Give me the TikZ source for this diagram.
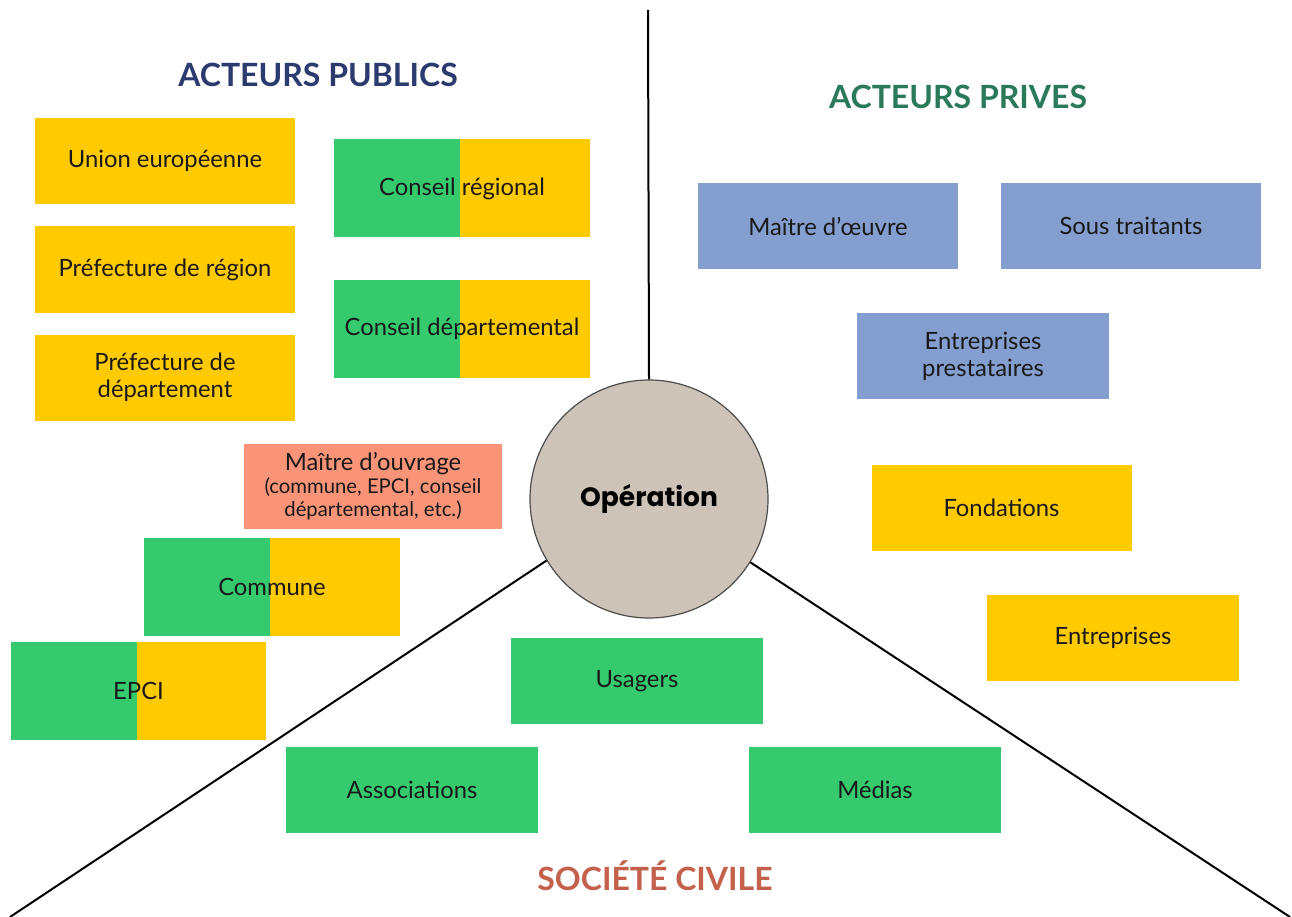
\documentclass[tikz,border=0pt]{standalone}
\usepackage{fontspec}
\setmainfont{Lato}
\newfontfamily\popfont{Poppins}
\definecolor{gyellow}{HTML}{FFCA00}
\definecolor{ggreen}{HTML}{36CA6E}
\definecolor{gblue}{HTML}{849FCF}
\definecolor{gsalmon}{HTML}{FA9478}
\definecolor{gcircle}{HTML}{CEC3B8}
\definecolor{tnavy}{HTML}{2B3A6F}
\definecolor{tgreen}{HTML}{2A7A5A}
\definecolor{tred}{HTML}{C4614C}
\begin{document}
\begin{tikzpicture}[x=1pt,y=-1pt,
  box/.style={inner sep=0pt, minimum width=260pt, minimum height=86pt, align=center,
    font=\fontsize{23.8}{27}\selectfont, text=black!90},
  ybox/.style={box, fill=gyellow},
  bbox/.style={box, fill=gblue},
  gbox/.style={box, fill=ggreen},
  splitbox/.style={box, minimum height=98pt, fill=gyellow,
    path picture={\fill[ggreen] (path picture bounding box.north west) rectangle ([xshift=126pt]path picture bounding box.south west);}},
  title/.style={font=\fontsize{32}{36}\selectfont\bfseries},
  sep/.style={line width=2pt, black}
]
\useasboundingbox[fill=white] (0,0) rectangle (1292,917);

% central operation
\node[circle, draw=black!70, line width=1.2pt, fill=gcircle, minimum size=238pt, inner sep=0pt,
  font=\popfont\bfseries\fontsize{26.5}{30}\selectfont] (op) at (649,499) {Opération};

% separators
\coordinate (vtop) at (648,10);
\coordinate (bl) at (10,917);
\coordinate (br) at (1290,917);
\draw[sep] (vtop) -- (op.north);
\draw[sep] (op.211) -- (bl);
\draw[sep] (op.328) -- (br);

% titles
\node[title, text=tnavy] (tpub) at (318,75) {ACTEURS PUBLICS};
\node[title, text=tgreen] (tpriv) at (958,97) {ACTEURS PRIVES};
\node[title, text=tred] (tciv) at (655,876) {SOCIÉTÉ CIVILE};

% public actors
\node[ybox] (ue) at (165,161) {Union européenne};
\node[ybox] (prefreg) at (165,269.5) {Préfecture de région};
\node[ybox] (prefdep) at (165,377.5) {Préfecture de\\département};
\node[splitbox, minimum width=256pt] (creg) at (462,188.5) {Conseil régional};
\node[splitbox, minimum width=256pt] (cdep) at (462,329) {Conseil départemental};
\node[box, fill=gsalmon, minimum width=258pt, minimum height=85pt] (mo) at (373,486.5)
  {Maître d’ouvrage\\[-4pt]{\fontsize{20.3}{23}\selectfont (commune, EPCI, conseil}\\[-4pt]{\fontsize{20.3}{23}\selectfont départemental, etc.)}};
\node[splitbox, minimum width=256pt] (commune) at (272,587) {Commune};
\node[splitbox, minimum width=255pt] (epci) at (138.5,691) {EPCI};

% private actors
\node[bbox] (moe) at (828,226) {Maître d’œuvre};
\node[bbox] (st) at (1131,226) {Sous traitants};
\node[bbox, minimum width=252pt] (ep) at (983,356) {Entreprises\\prestataires};
\node[ybox] (fond) at (1001.5,508) {Fondations};
\node[ybox, minimum width=252pt] (entr) at (1113,638) {Entreprises};

% civil society
\node[gbox, minimum width=252pt] (usagers) at (637,681) {Usagers};
\node[gbox, minimum width=252pt] (assoc) at (412,789.5) {Associations};
\node[gbox, minimum width=252pt] (medias) at (875,789.5) {Médias};
\end{tikzpicture}
\end{document}
